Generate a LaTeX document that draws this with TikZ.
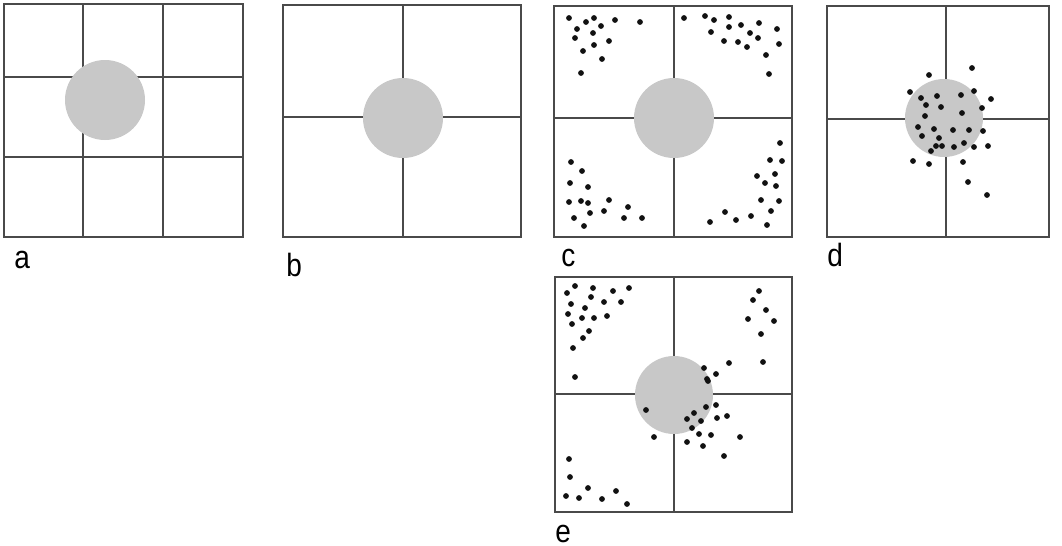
\documentclass[tikz,border=0pt]{standalone}
\usepackage{fontspec}
\setmainfont{Liberation Sans}
\usepackage{xcolor}
\usepackage{tikz}
\usetikzlibrary{positioning,calc}
\definecolor{ink}{HTML}{111111}
\definecolor{gridgray}{HTML}{4A4A4A}
\definecolor{discgray}{HTML}{C8C8C8}
\tikzset{
  frame/.style={draw=gridgray, line width=0.8pt},
  cellline/.style={draw=gridgray, line width=0.8pt},
  disc/.style={fill=discgray, draw=none},
  pt/.style={fill=ink, draw=none},
  panellabel/.style={anchor=base west, inner sep=0pt, font=\fontsize{14pt}{14pt}\selectfont}
}
\newcommand{\tall}[1]{\scalebox{1}[1.15]{#1}}

\begin{document}
\begin{tikzpicture}[x=0.5pt, y=-0.5pt]
  \useasboundingbox (0,0) rectangle (1062,546);

  % panel a: 3x3 grid
  \draw[frame] (4,4) rectangle (243,237);
  \draw[cellline] (83,4) -- (83,237) (163,4) -- (163,237) (4,77) -- (243,77) (4,157) -- (243,157);
  \fill[disc] (105,100) circle[radius=20pt];
  \node[panellabel] (lbla) at (14,268) {\tall{a}};

  % panel b: 2x2 grid
  \draw[frame] (283,5) rectangle (521,237);
  \draw[cellline] (403,5) -- (403,237) (283,117) -- (521,117);
  \fill[disc] (403,118) circle[radius=20pt];
  \node[panellabel] (lblb) at (286,276) {\tall{b}};

  % panel c: points in the corners
  \draw[frame] (554,6) rectangle (792,237);
  \draw[cellline] (674,6) -- (674,237) (554,118) -- (792,118);
  \fill[disc] (674,118) circle[radius=20pt];
  \foreach \x/\y in {569/18,586/22,594/18,577/29,601/26,615/20,640/22,593/33,575/38,594/45,609/41,583/51,602/59,581/73,
    684/18,705/16,714/20,729/17,729/27,741/25,759/23,711/32,750/33,777/29,724/41,738/42,758/38,747/47,779/44,766/55,769/74,
    571/162,582/171,570/183,588/187,569/202,581/201,588/203,609/200,590/213,604/211,628/207,574/218,624/218,642/218,584/226,
    780/143,770/160,782/161,757/176,775/174,765/183,776/186,761/200,779/201,725/212,771/211,751/216,710/222,736/220,767/225}
    \fill[pt] (\x,\y) circle[radius=1.45pt];
  \node[panellabel] (lblc) at (561,266) {\tall{c}};

  % panel d: points round the centre
  \draw[frame] (827,6) rectangle (1049,237);
  \draw[cellline] (946,6) -- (946,237) (827,119) -- (1049,119);
  \fill[disc] (944,118) circle[radius=19.5pt];
  \foreach \x/\y in {972/68,929/75,910/92,974/91,921/98,937/96,961/95,991/99,926/105,941/107,982/108,925/116,962/113,
    918/127,934/129,953/130,969/130,983/131,922/136,939/138,964/143,936/146,942/146,954/147,974/147,988/146,
    931/151,913/161,929/164,963/162,968/182,987/195}
    \fill[pt] (\x,\y) circle[radius=1.45pt];
  \node[panellabel] (lbld) at (827,266) {\tall{d}};

  % panel e: corners and centre
  \draw[frame] (555,277) rectangle (792,512);
  \draw[cellline] (674,277) -- (674,512) (555,394) -- (792,394);
  \fill[disc] (674,395) circle[radius=19.5pt];
  \foreach \x/\y in {575/286,567/293,593/288,613/291,629/288,591/297,571/304,585/308,604/302,621/302,568/314,582/318,
    594/318,607/316,572/324,589/331,583/338,573/348,575/377,
    759/291,753/300,766/310,748/319,774/321,761/334,763/362,729/363,
    704/368,716/374,707/379,708/381,706/407,716/405,646/410,694/413,687/419,701/421,717/418,727/416,
    692/428,699/434,711/435,740/437,654/437,687/442,703/446,724/456,
    569/459,570/477,588/488,616/491,566/496,579/498,602/499,627/504}
    \fill[pt] (\x,\y) circle[radius=1.45pt];
  \node[panellabel] (lble) at (555,542) {\tall{e}};
\end{tikzpicture}
\end{document}
